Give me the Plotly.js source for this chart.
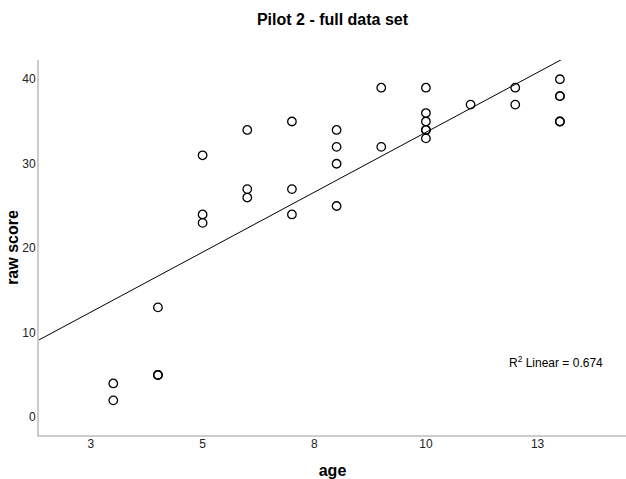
<!DOCTYPE html>
<html>
<head>
<meta charset="utf-8">
<script src="https://cdn.plot.ly/plotly-3.0.1.min.js"></script>
<style>html,body{margin:0;padding:0;background:#fff;}#chart{width:626px;height:479px;}</style>
</head>
<body>
<div id="chart"></div>
<script>
// Data
var age = [3,3, 4,4,4, 5,5,5, 6,6,6, 7,7,7, 8,8,8,8, 9,9, 10,10,10,10,10,10, 11, 12,12, 13,13,13,13,13];
var rawScore = [4,2, 13,5,5, 31,24,23, 34,27,26, 35,27,24, 34,32,30,25, 39,32, 39,36,35,34,34,33, 37, 39,37, 40,38,38,35,35];
var xTickVals = [2.5, 5, 7.5, 10, 12.5];
var xTickText = ['3', '5', '8', '10', '13'];
var yTickVals = [0, 10, 20, 30, 40];

// Least-squares fit computed from the data
var n = age.length, sx = 0, sy = 0, sxy = 0, sxx = 0, syy = 0;
for (var i = 0; i < n; i++) {
  sx += age[i]; sy += rawScore[i];
  sxy += age[i] * rawScore[i]; sxx += age[i] * age[i]; syy += rawScore[i] * rawScore[i];
}
var Sxx = sxx - sx * sx / n, Sxy = sxy - sx * sy / n, Syy = syy - sy * sy / n;
var slope = Sxy / Sxx, intercept = sy / n - slope * sx / n;
var r2 = (Sxy * Sxy) / (Sxx * Syy);

var xRange = [1.337, 14.48];
var yRange = [-2.1, 42.28];
var fitX = [xRange[0], xRange[1]];
var fitY = fitX.map(function (x) { return intercept + slope * x; });

var font = 'Arial, "Liberation Sans", sans-serif';

var traces = [
  {
    x: fitX, y: fitY, mode: 'lines', type: 'scatter',
    line: {color: '#000', width: 1}, hoverinfo: 'skip'
  },
  {
    x: age, y: rawScore, mode: 'markers', type: 'scatter',
    marker: {symbol: 'circle-open', size: 8.5, color: '#000', line: {color: '#000', width: 1.3}}
  }
];

var layout = {
  width: 626, height: 479,
  margin: {l: 39, r: 0, t: 60, b: 44},
  paper_bgcolor: '#fff', plot_bgcolor: '#fff',
  showlegend: false,
  font: {family: font, size: 12, color: '#222'},
  title: {text: 'Pilot 2 - full data set', font: {family: font, size: 16, color: '#000', weight: 'bold'},
          x: 0.5, xref: 'paper', y: 0.96, yref: 'container', yanchor: 'middle'},
  xaxis: {
    range: xRange, tickvals: xTickVals, ticktext: xTickText, showgrid: false, zeroline: false,
    showline: true, linecolor: '#cccccc', linewidth: 2, ticks: '', ticklabelstandoff: -3,
    tickfont: {family: font, size: 12, color: '#222'},
    title: {text: 'age', font: {family: font, size: 16, color: '#000', weight: 'bold'}, standoff: 14}
  },
  yaxis: {
    range: yRange, tickvals: yTickVals, showgrid: false, zeroline: false,
    showline: true, linecolor: '#cccccc', linewidth: 2, ticks: '', ticklabelstandoff: -1,
    tickfont: {family: font, size: 12, color: '#222'},
    title: {text: 'raw score', font: {family: font, size: 16, color: '#000', weight: 'bold'}, standoff: 0}
  },
  annotations: [{
    x: 14.01, y: 6.57, xref: 'x', yref: 'y', xanchor: 'right', yanchor: 'middle',
    text: 'R<sup>2</sup> Linear = ' + r2.toFixed(3), showarrow: false,
    font: {family: font, size: 12, color: '#000'}
  }]
};

Plotly.newPlot('chart', traces, layout, {displayModeBar: false, staticPlot: true});
</script>
</body>
</html>
